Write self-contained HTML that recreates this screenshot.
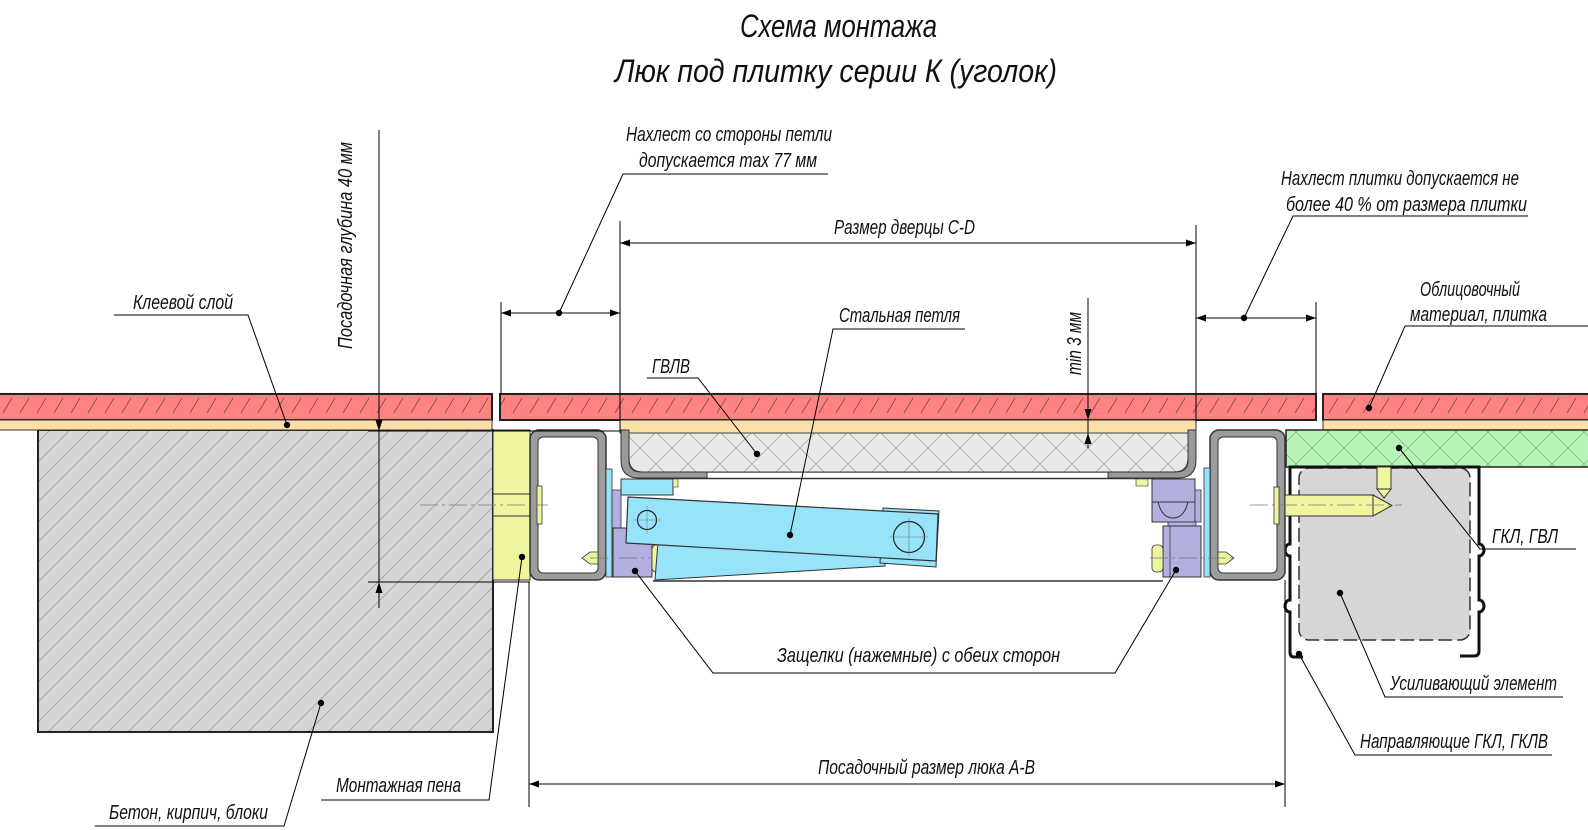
<!DOCTYPE html>
<html>
<head>
<meta charset="utf-8">
<style>
html,body{margin:0;padding:0;background:#fff;overflow:hidden;}
svg{display:block;}
text{font-family:"Liberation Sans","DejaVu Sans",sans-serif;font-style:italic;fill:#111;}
</style>
</head>
<body>
<svg width="1588" height="830" viewBox="0 0 1588 830" xmlns="http://www.w3.org/2000/svg">
<defs>
  <pattern id="tileH" patternUnits="userSpaceOnUse" width="17" height="26">
    <rect width="17" height="26" fill="#ff8282"/>
    <path d="M3 23 L12 8" stroke="#804c4c" stroke-width="0.8"/>
  </pattern>
  <pattern id="conH" patternUnits="userSpaceOnUse" width="20" height="20">
    <rect width="20" height="20" fill="#d5d5d5"/>
    <path d="M0 20 L20 0 M-5 5 L5 -5 M15 25 L25 15" stroke="#959595" stroke-width="0.7"/>
  </pattern>
  <pattern id="gvlH" patternUnits="userSpaceOnUse" width="32" height="32">
    <rect width="32" height="32" fill="#e8eaea"/>
    <path d="M0 0 L32 32 M32 0 L0 32" stroke="#9c9c9c" stroke-width="0.7"/>
  </pattern>
  <pattern id="grnH" patternUnits="userSpaceOnUse" width="32" height="32">
    <rect width="32" height="32" fill="#b6f5b6"/>
    <path d="M0 0 L32 32 M32 0 L0 32" stroke="#7fa87f" stroke-width="0.7"/>
  </pattern>
  <marker id="ar" viewBox="0 0 10 7" refX="10" refY="3.5" markerWidth="10" markerHeight="7" markerUnits="userSpaceOnUse" orient="auto-start-reverse">
    <path d="M0 0 L10 3.5 L0 7 z" fill="#000"/>
  </marker>
</defs>

<!-- Title -->
<text x="740" y="37" font-size="32" textLength="197" lengthAdjust="spacingAndGlyphs">Схема монтажа</text>
<text x="615" y="82" font-size="32" textLength="442" lengthAdjust="spacingAndGlyphs">Люк под плитку серии  К (уголок)</text>

<!-- Concrete -->
<rect x="38" y="430" width="455" height="302" fill="url(#conH)" stroke="#222" stroke-width="2"/>
<!-- Foam -->
<rect x="493" y="430" width="37" height="150" fill="#eff59f" stroke="#333" stroke-width="1"/>
<line x1="493" y1="494" x2="530" y2="494" stroke="#333" stroke-width="1"/>
<line x1="493" y1="516" x2="530" y2="516" stroke="#333" stroke-width="1"/>

<!-- Tiles -->
<rect x="-2" y="394" width="494" height="26" fill="url(#tileH)" stroke="#222" stroke-width="2"/>
<rect x="500" y="394" width="816" height="26" fill="url(#tileH)" stroke="#222" stroke-width="2"/>
<rect x="1323" y="394" width="270" height="26" fill="url(#tileH)" stroke="#222" stroke-width="2"/>
<!-- Adhesive -->
<rect x="-2" y="420" width="494" height="10" fill="#fde0a8" stroke="#333" stroke-width="1"/>
<rect x="620" y="420" width="576" height="13" fill="#fde0a8" stroke="#333" stroke-width="1"/>
<rect x="1323" y="420" width="270" height="10" fill="#fde0a8" stroke="#333" stroke-width="1"/>

<!-- Green GKL -->
<rect x="1286" y="430" width="305" height="37" fill="url(#grnH)" stroke="#222" stroke-width="1.5"/>

<!-- Reinforcement element -->
<rect x="1299" y="468" width="171" height="172" rx="10" fill="#d6d6d6" stroke="#333" stroke-width="1.5" stroke-dasharray="14 5"/>
<!-- Guide profile -->
<path d="M1303,657 H1294 Q1290,657 1290,652 V612 A5,6 0 0 1 1290,600 V556 A5,6 0 0 1 1290,544 V467 H1479 V544 A5,6 0 0 1 1479,556 V600 A5,6 0 0 1 1479,612 V651 Q1479,656 1474,656 H1460" fill="none" stroke="#111" stroke-width="3"/>

<!-- Tubes (frame) -->
<rect x="530" y="430" width="76" height="150" rx="9" fill="#9c9c9c" stroke="#333" stroke-width="1.5"/>
<rect x="538" y="437" width="60" height="136" rx="5" fill="#fff" stroke="#333" stroke-width="1"/>
<rect x="1210" y="430" width="75" height="150" rx="9" fill="#9c9c9c" stroke="#333" stroke-width="1.5"/>
<rect x="1218" y="437" width="59" height="136" rx="5" fill="#fff" stroke="#333" stroke-width="1"/>
<!-- plates inside tubes -->
<rect x="537" y="486" width="5" height="38" fill="#eff59f" stroke="#333" stroke-width="0.8"/>
<rect x="1274" y="487" width="5" height="37" fill="#eff59f" stroke="#333" stroke-width="0.8"/>
<!-- cones -->
<polygon points="598,552 590,552 582,558 590,564 598,564" fill="#eff59f" stroke="#333" stroke-width="0.8"/>
<polygon points="1218,552 1226,552 1234,558 1226,564 1218,564" fill="#eff59f" stroke="#333" stroke-width="0.8"/>

<!-- Door: GVL + tray -->
<path d="M629,433 H1188 V458 Q1188,472 1174,472 H643 Q629,472 629,458 Z" fill="url(#gvlH)" stroke="#444" stroke-width="1"/>
<path d="M621,430 V460 Q621,478 639,478 H707 V472 H641 Q629,472 629,460 V430 Z" fill="#999" stroke="#333" stroke-width="1"/>
<path d="M1196,430 V460 Q1196,478 1178,478 H1108 V472 H1176 Q1188,472 1188,460 V430 Z" fill="#999" stroke="#333" stroke-width="1"/>
<line x1="707" y1="472.5" x2="1108" y2="472.5" stroke="#666" stroke-width="0.8"/>
<line x1="673" y1="478.5" x2="1152" y2="478.5" stroke="#333" stroke-width="1.5"/>
<line x1="653" y1="581" x2="1163" y2="581" stroke="#333" stroke-width="1.5"/>

<!-- Left hinge -->
<rect x="606" y="469" width="6" height="108" fill="#96e3fa" stroke="#333" stroke-width="0.8"/>
<rect x="612" y="490" width="9" height="87" fill="#b3b0e0" stroke="#333" stroke-width="0.8"/>
<rect x="621" y="479" width="52" height="16" fill="#96e3fa" stroke="#333" stroke-width="1"/>
<rect x="673" y="479" width="5" height="8" fill="#eff59f" stroke="#333" stroke-width="0.6"/>
<rect x="613" y="528" width="39" height="49" fill="#b3b0e0" stroke="#333" stroke-width="1"/>
<rect x="652" y="545" width="10" height="27" rx="4" fill="#eff59f" stroke="#333" stroke-width="0.8"/>
<polygon points="658,542 885,552 885,566 655,580" fill="#96e3fa" stroke="#333" stroke-width="1"/>
<polygon points="883,508 939,511 936,567 880,563" fill="#96e3fa" stroke="#333" stroke-width="1"/>
<polygon points="628,497 938,514 936,561 626,543" fill="#96e3fa" stroke="#333" stroke-width="1.2"/>
<circle cx="647" cy="520" r="9.5" fill="none" stroke="#222" stroke-width="1.2"/>
<circle cx="909" cy="537" r="15.5" fill="none" stroke="#222" stroke-width="1.2"/>
<path d="M633 520 H661 M647 506 V534 M890 537 H928 M909 518 V556" stroke="#777" stroke-width="0.6"/>

<!-- Right latch -->
<rect x="1204" y="468" width="6" height="109" fill="#96e3fa" stroke="#333" stroke-width="0.8"/>
<rect x="1136" y="479" width="12" height="7" fill="#eff59f" stroke="#333" stroke-width="0.6"/>
<rect x="1152" y="479" width="43" height="43" fill="#b3b0e0" stroke="#333" stroke-width="1"/>
<rect x="1195" y="490" width="6" height="32" fill="#b3b0e0" stroke="#333" stroke-width="0.8"/>
<path d="M1152 502 H1195 M1158 502 Q1162 518 1173 518 Q1184 518 1188 502" fill="none" stroke="#333" stroke-width="1"/>
<rect x="1168" y="522" width="28" height="5" fill="#b3b0e0" stroke="#333" stroke-width="0.8"/>
<rect x="1163" y="526" width="38" height="51" fill="#b3b0e0" stroke="#333" stroke-width="1"/>
<line x1="1170" y1="526" x2="1170" y2="577" stroke="#333" stroke-width="0.8"/>
<rect x="1152" y="545" width="11" height="27" rx="4" fill="#eff59f" stroke="#333" stroke-width="0.8"/>

<!-- Screws -->
<rect x="1285" y="495" width="88" height="21" fill="#eff59f" stroke="#333" stroke-width="1"/>
<polygon points="1373,495 1392,505.5 1373,516" fill="#eff59f" stroke="#333" stroke-width="1"/>
<rect x="1377" y="467" width="14" height="22" fill="#eff59f" stroke="#333" stroke-width="1"/>
<polygon points="1377,489 1391,489 1384,498" fill="#eff59f" stroke="#333" stroke-width="1"/>

<!-- Center lines -->
<path d="M420 505 H548 M1250 505 H1402 M590 558 H650 M1150 558 H1235" stroke="#777" stroke-width="0.7" stroke-dasharray="18 4 3 4"/>

<!-- Dimension & extension lines -->
<g stroke="#000" stroke-width="1" fill="none">
  <line x1="379" y1="130" x2="379" y2="608"/>
  <line x1="368" y1="431" x2="620" y2="431"/>
  <line x1="368" y1="582" x2="530" y2="582"/>
  <line x1="501" y1="302" x2="501" y2="394"/>
  <line x1="620" y1="221" x2="620" y2="431"/>
  <line x1="1196" y1="225" x2="1196" y2="422"/>
  <line x1="1316" y1="302" x2="1316" y2="394"/>
  <line x1="501" y1="313" x2="620" y2="313" marker-start="url(#ar)" marker-end="url(#ar)"/>
  <line x1="620" y1="243" x2="1196" y2="243" marker-start="url(#ar)" marker-end="url(#ar)"/>
  <line x1="1196" y1="318" x2="1316" y2="318" marker-start="url(#ar)" marker-end="url(#ar)"/>
  <line x1="1088" y1="298" x2="1088" y2="448"/>
  <line x1="529" y1="582" x2="529" y2="807"/>
  <line x1="1285" y1="580" x2="1285" y2="807"/>
  <line x1="529" y1="784" x2="1285" y2="784" marker-start="url(#ar)" marker-end="url(#ar)"/>
  <polyline points="114,315 248,315 287,425"/>
  <polyline points="828,174 623,174 559,313"/>
  <polyline points="1528,216 1293,216 1244,318"/>
  <polyline points="1588,326 1405,326 1369,408"/>
  <polyline points="965,329 833,329 790,535"/>
  <polyline points="647,378 698,378 757,454"/>
  <polyline points="1576,549 1480,549 1399,448"/>
  <polyline points="1563,697 1385,697 1340,593"/>
  <polyline points="1552,755 1355,755 1299,654"/>
  <polyline points="635,571 713,673 1115,673 1176,570"/>
  <polyline points="321,800 489,800 522,557"/>
  <polyline points="95,826 284,826 321,703"/>
</g>
<polygon points="379,431 375.5,420 382.5,420" fill="#000"/>
<polygon points="379,582 375.5,593 382.5,593" fill="#000"/>
<polygon points="1088,420 1084.5,409 1091.5,409" fill="#000"/>
<polygon points="1088,433 1084.5,444 1091.5,444" fill="#000"/>

<!-- Dots -->
<g fill="#000">
  <circle cx="287" cy="425" r="3.2"/>
  <circle cx="559" cy="313" r="3.2"/>
  <circle cx="1244" cy="318" r="3.2"/>
  <circle cx="1369" cy="408" r="3.2"/>
  <circle cx="790" cy="535" r="3.2"/>
  <circle cx="757" cy="454" r="3.2"/>
  <circle cx="1399" cy="448" r="3.2"/>
  <circle cx="1340" cy="593" r="3.2"/>
  <circle cx="1299" cy="654" r="3.2"/>
  <circle cx="635" cy="571" r="3.2"/>
  <circle cx="1176" cy="570" r="3.2"/>
  <circle cx="522" cy="557" r="3.2"/>
  <circle cx="321" cy="703" r="3.2"/>
</g>

<!-- Labels -->
<g font-size="20">
  <text x="133" y="309" textLength="100" lengthAdjust="spacingAndGlyphs">Клеевой слой</text>
  <text transform="translate(352,349) rotate(-90)" x="0" y="0" textLength="207" lengthAdjust="spacingAndGlyphs">Посадочная глубина 40 мм</text>
  <text x="626" y="141" textLength="206" lengthAdjust="spacingAndGlyphs">Нахлест со стороны петли</text>
  <text x="639" y="167" textLength="178" lengthAdjust="spacingAndGlyphs">допускается max 77 мм</text>
  <text x="834" y="234" textLength="141" lengthAdjust="spacingAndGlyphs">Размер дверцы C-D</text>
  <text x="839" y="322" textLength="121" lengthAdjust="spacingAndGlyphs">Стальная петля</text>
  <text x="652" y="373" textLength="38" lengthAdjust="spacingAndGlyphs">ГВЛВ</text>
  <text transform="translate(1081,375) rotate(-90)" x="0" y="0" textLength="63" lengthAdjust="spacingAndGlyphs">min 3 мм</text>
  <text x="1281" y="185" textLength="238" lengthAdjust="spacingAndGlyphs">Нахлест плитки допускается не</text>
  <text x="1286" y="211" textLength="241" lengthAdjust="spacingAndGlyphs">более 40 % от размера плитки</text>
  <text x="1420" y="296" textLength="100" lengthAdjust="spacingAndGlyphs">Облицовочный</text>
  <text x="1410" y="321" textLength="137" lengthAdjust="spacingAndGlyphs">материал, плитка</text>
  <text x="1492" y="543" textLength="66" lengthAdjust="spacingAndGlyphs">ГКЛ, ГВЛ</text>
  <text x="1390" y="690" textLength="167" lengthAdjust="spacingAndGlyphs">Усиливающий элемент</text>
  <text x="1360" y="748" textLength="188" lengthAdjust="spacingAndGlyphs">Направляющие ГКЛ, ГКЛВ</text>
  <text x="777" y="662" textLength="283" lengthAdjust="spacingAndGlyphs">Защелки (нажемные) с обеих сторон</text>
  <text x="818" y="774" textLength="217" lengthAdjust="spacingAndGlyphs">Посадочный размер люка А-В</text>
  <text x="336" y="792" textLength="125" lengthAdjust="spacingAndGlyphs">Монтажная пена</text>
  <text x="109" y="819" textLength="159" lengthAdjust="spacingAndGlyphs">Бетон, кирпич, блоки</text>
</g>
</svg>
</body>
</html>
